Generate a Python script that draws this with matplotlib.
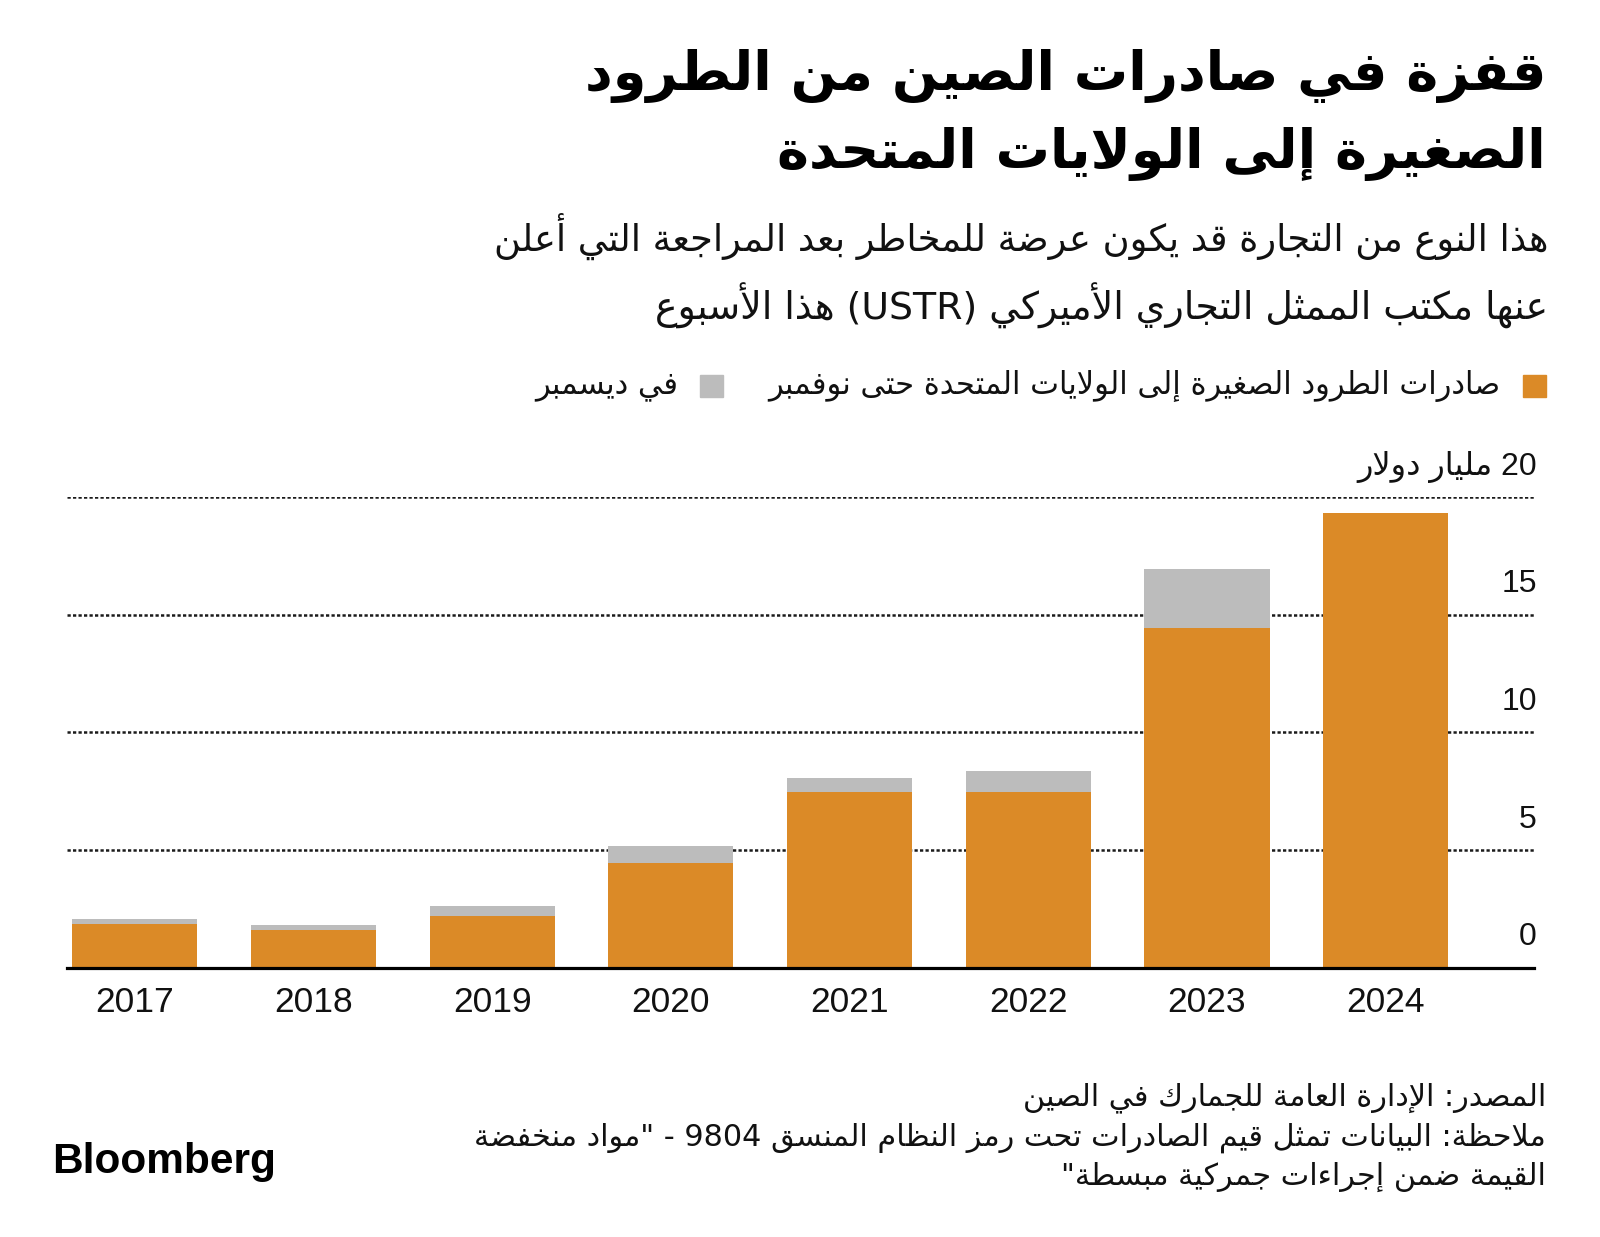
import re
import numpy as np
import matplotlib
matplotlib.use('Agg')
import matplotlib.pyplot as plt
from matplotlib.patches import Rectangle

# ---- data -------------------------------------------------------------
years = ['2017', '2018', '2019', '2020', '2021', '2022', '2023', '2024']
jan_to_nov = [1.86, 1.61, 2.19, 4.43, 7.46, 7.46, 14.43, 19.34]
december = [0.20, 0.19, 0.42, 0.72, 0.60, 0.91, 2.50, 0.0]
y_ticks = [0, 5, 10, 15, 20]
y_tick_labels = ['0', '5', '10', '15', '20 مليار دولار']

title_lines = ['قفزة في صادرات الصين من الطرود',
               'الصغيرة إلى الولايات المتحدة']
subtitle_lines = ['هذا النوع من التجارة قد يكون عرضة للمخاطر بعد المراجعة التي أعلن',
                  'عنها مكتب الممثل التجاري الأميركي (USTR) هذا الأسبوع']
legend_labels = ['صادرات الطرود الصغيرة إلى الولايات المتحدة حتى نوفمبر',
                 'في ديسمبر']
footer_lines = ['المصدر: الإدارة العامة للجمارك في الصين',
                'ملاحظة: البيانات تمثل قيم الصادرات تحت رمز النظام المنسق 9804 - "مواد منخفضة',
                'القيمة ضمن إجراءات جمركية مبسطة"']

ORANGE = '#DB8A27'
GREY = '#BCBCBC'

# ---- arabic shaping (matplotlib does no shaping / bidi) ----------------
DUAL = {'ئ': 0xFE89, 'ب': 0xFE8F, 'ت': 0xFE95, 'ث': 0xFE99, 'ج': 0xFE9D,
        'ح': 0xFEA1, 'خ': 0xFEA5, 'س': 0xFEB1, 'ش': 0xFEB5, 'ص': 0xFEB9,
        'ض': 0xFEBD, 'ط': 0xFEC1, 'ظ': 0xFEC5, 'ع': 0xFEC9, 'غ': 0xFECD,
        'ف': 0xFED1, 'ق': 0xFED5, 'ك': 0xFED9, 'ل': 0xFEDD, 'م': 0xFEE1,
        'ن': 0xFEE5, 'ه': 0xFEE9, 'ي': 0xFEF1}
RIGHT = {'آ': 0xFE81, 'أ': 0xFE83, 'ؤ': 0xFE85, 'إ': 0xFE87, 'ا': 0xFE8D,
         'ة': 0xFE93, 'د': 0xFEA9, 'ذ': 0xFEAB, 'ر': 0xFEAD, 'ز': 0xFEAF,
         'و': 0xFEED, 'ى': 0xFEEF}
LAM_ALEF = {'آ': 0xFEF5, 'أ': 0xFEF7, 'إ': 0xFEF9, 'ا': 0xFEFB}
MIRROR = {'(': ')', ')': '('}


def shape(s):
    out = []
    n = len(s)

    def joining(c):
        return c in DUAL or c in RIGHT

    def joins_prev(k):
        return k > 0 and s[k - 1] in DUAL and joining(s[k])

    i = 0
    while i < n:
        c = s[i]
        if c == 'ل' and i + 1 < n and s[i + 1] in LAM_ALEF:
            out.append(chr(LAM_ALEF[s[i + 1]] + (1 if joins_prev(i) else 0)))
            i += 2
            continue
        if c in DUAL:
            p = joins_prev(i)
            nx = i + 1 < n and joining(s[i + 1])
            f = 3 if (p and nx) else 2 if nx else 1 if p else 0
            out.append(chr(DUAL[c] + f))
        elif c in RIGHT:
            out.append(chr(RIGHT[c] + (1 if joins_prev(i) else 0)))
        elif c == 'ء':
            out.append(chr(0xFE80))
        else:
            out.append(c)
        i += 1
    return ''.join(out)


def ar(s):
    t = shape(s)[::-1]
    t = re.sub(r'[A-Za-z0-9][A-Za-z0-9.,]*[A-Za-z0-9]|[A-Za-z0-9]',
               lambda m: m.group(0)[::-1], t)
    return ''.join(MIRROR.get(c, c) for c in t)


# ---- figure ------------------------------------------------------------
W, H = 1600, 1237
fig = plt.figure(figsize=(16, 12.37), dpi=100)
fig.patch.set_facecolor('white')


def fx(x):
    return x / W


def fy(y):
    return 1 - y / H


AR = ['DejaVu Sans']
NUM = ['Liberation Sans', 'DejaVu Sans']

# title
for k, line in enumerate(title_lines):
    fig.text(fx(1546), fy(76 + 78 * k), ar(line), ha='right', va='center',
             fontsize=39, fontweight='bold', family=AR, color='black')

# subtitle
for k, line in enumerate(subtitle_lines):
    fig.text(fx(1548), fy(236 + 70 * k), ar(line), ha='right', va='center',
             fontsize=[26.5, 27.3][k], family=AR, color='#111111')

# legend
renderer = fig.canvas.get_renderer()
fig.patches.append(Rectangle((fx(1523), fy(397)), 23 / W, 22 / H,
                             transform=fig.transFigure, color=ORANGE))
t1 = fig.text(fx(1500), fy(386), ar(legend_labels[0]), ha='right', va='center',
              fontsize=22, family=AR, color='#111111')
left1 = t1.get_window_extent(renderer).x0
gx = left1 - 45 - 23
fig.patches.append(Rectangle((gx / W, fy(397)), 23 / W, 22 / H,
                             transform=fig.transFigure, color=GREY))
fig.text((gx - 22) / W, fy(386), ar(legend_labels[1]), ha='right', va='center',
         fontsize=22, family=AR, color='#111111')

# ---- axes --------------------------------------------------------------
ax = fig.add_axes([fx(67), fy(967.5), (1534 - 67) / W, (967.5 - 497) / H])
x = np.arange(len(years))
ax.bar(x, jan_to_nov, width=0.70, color=ORANGE, zorder=2)
ax.bar(x, december, bottom=jan_to_nov, width=0.70, color=GREY, zorder=2)

for v in y_ticks[1:]:
    ax.axhline(v, color='#1a1a1a', lw=1.8, linestyle=(0, (1.3, 0.9)), zorder=1)
ax.axhline(0, color='black', lw=2.3, zorder=3, clip_on=False)

ax.set_xlim(-0.38, 7.83)
ax.set_ylim(0, 20)
for s in ax.spines.values():
    s.set_visible(False)
ax.set_yticks([])
ax.set_xticks(x)
ax.set_xticklabels(years, family=NUM, fontsize=25.5, color='#111111')
ax.tick_params(axis='x', length=0, pad=13)

for v, lbl in zip(y_ticks, y_tick_labels):
    txt = ar(lbl) if v == 20 else lbl
    ax.annotate(txt, xy=(1, v), xycoords=('axes fraction', 'data'),
                xytext=(2, 16), textcoords='offset points', ha='right',
                va='baseline', fontsize=23, family=NUM, color='#111111')

# ---- footer ------------------------------------------------------------
for k, line in enumerate(footer_lines):
    fig.text(fx(1546), fy(1098 + 39.5 * k), ar(line), ha='right', va='center',
             fontsize=21.8, family=AR, color='#111111')

fig.text(fx(52), fy(1162), 'Bloomberg', ha='left', va='center',
         fontsize=30.5, fontweight='bold', family=['Liberation Sans', 'DejaVu Sans'],
         color='black')

fig.savefig('out.png', dpi=100, facecolor='white')
